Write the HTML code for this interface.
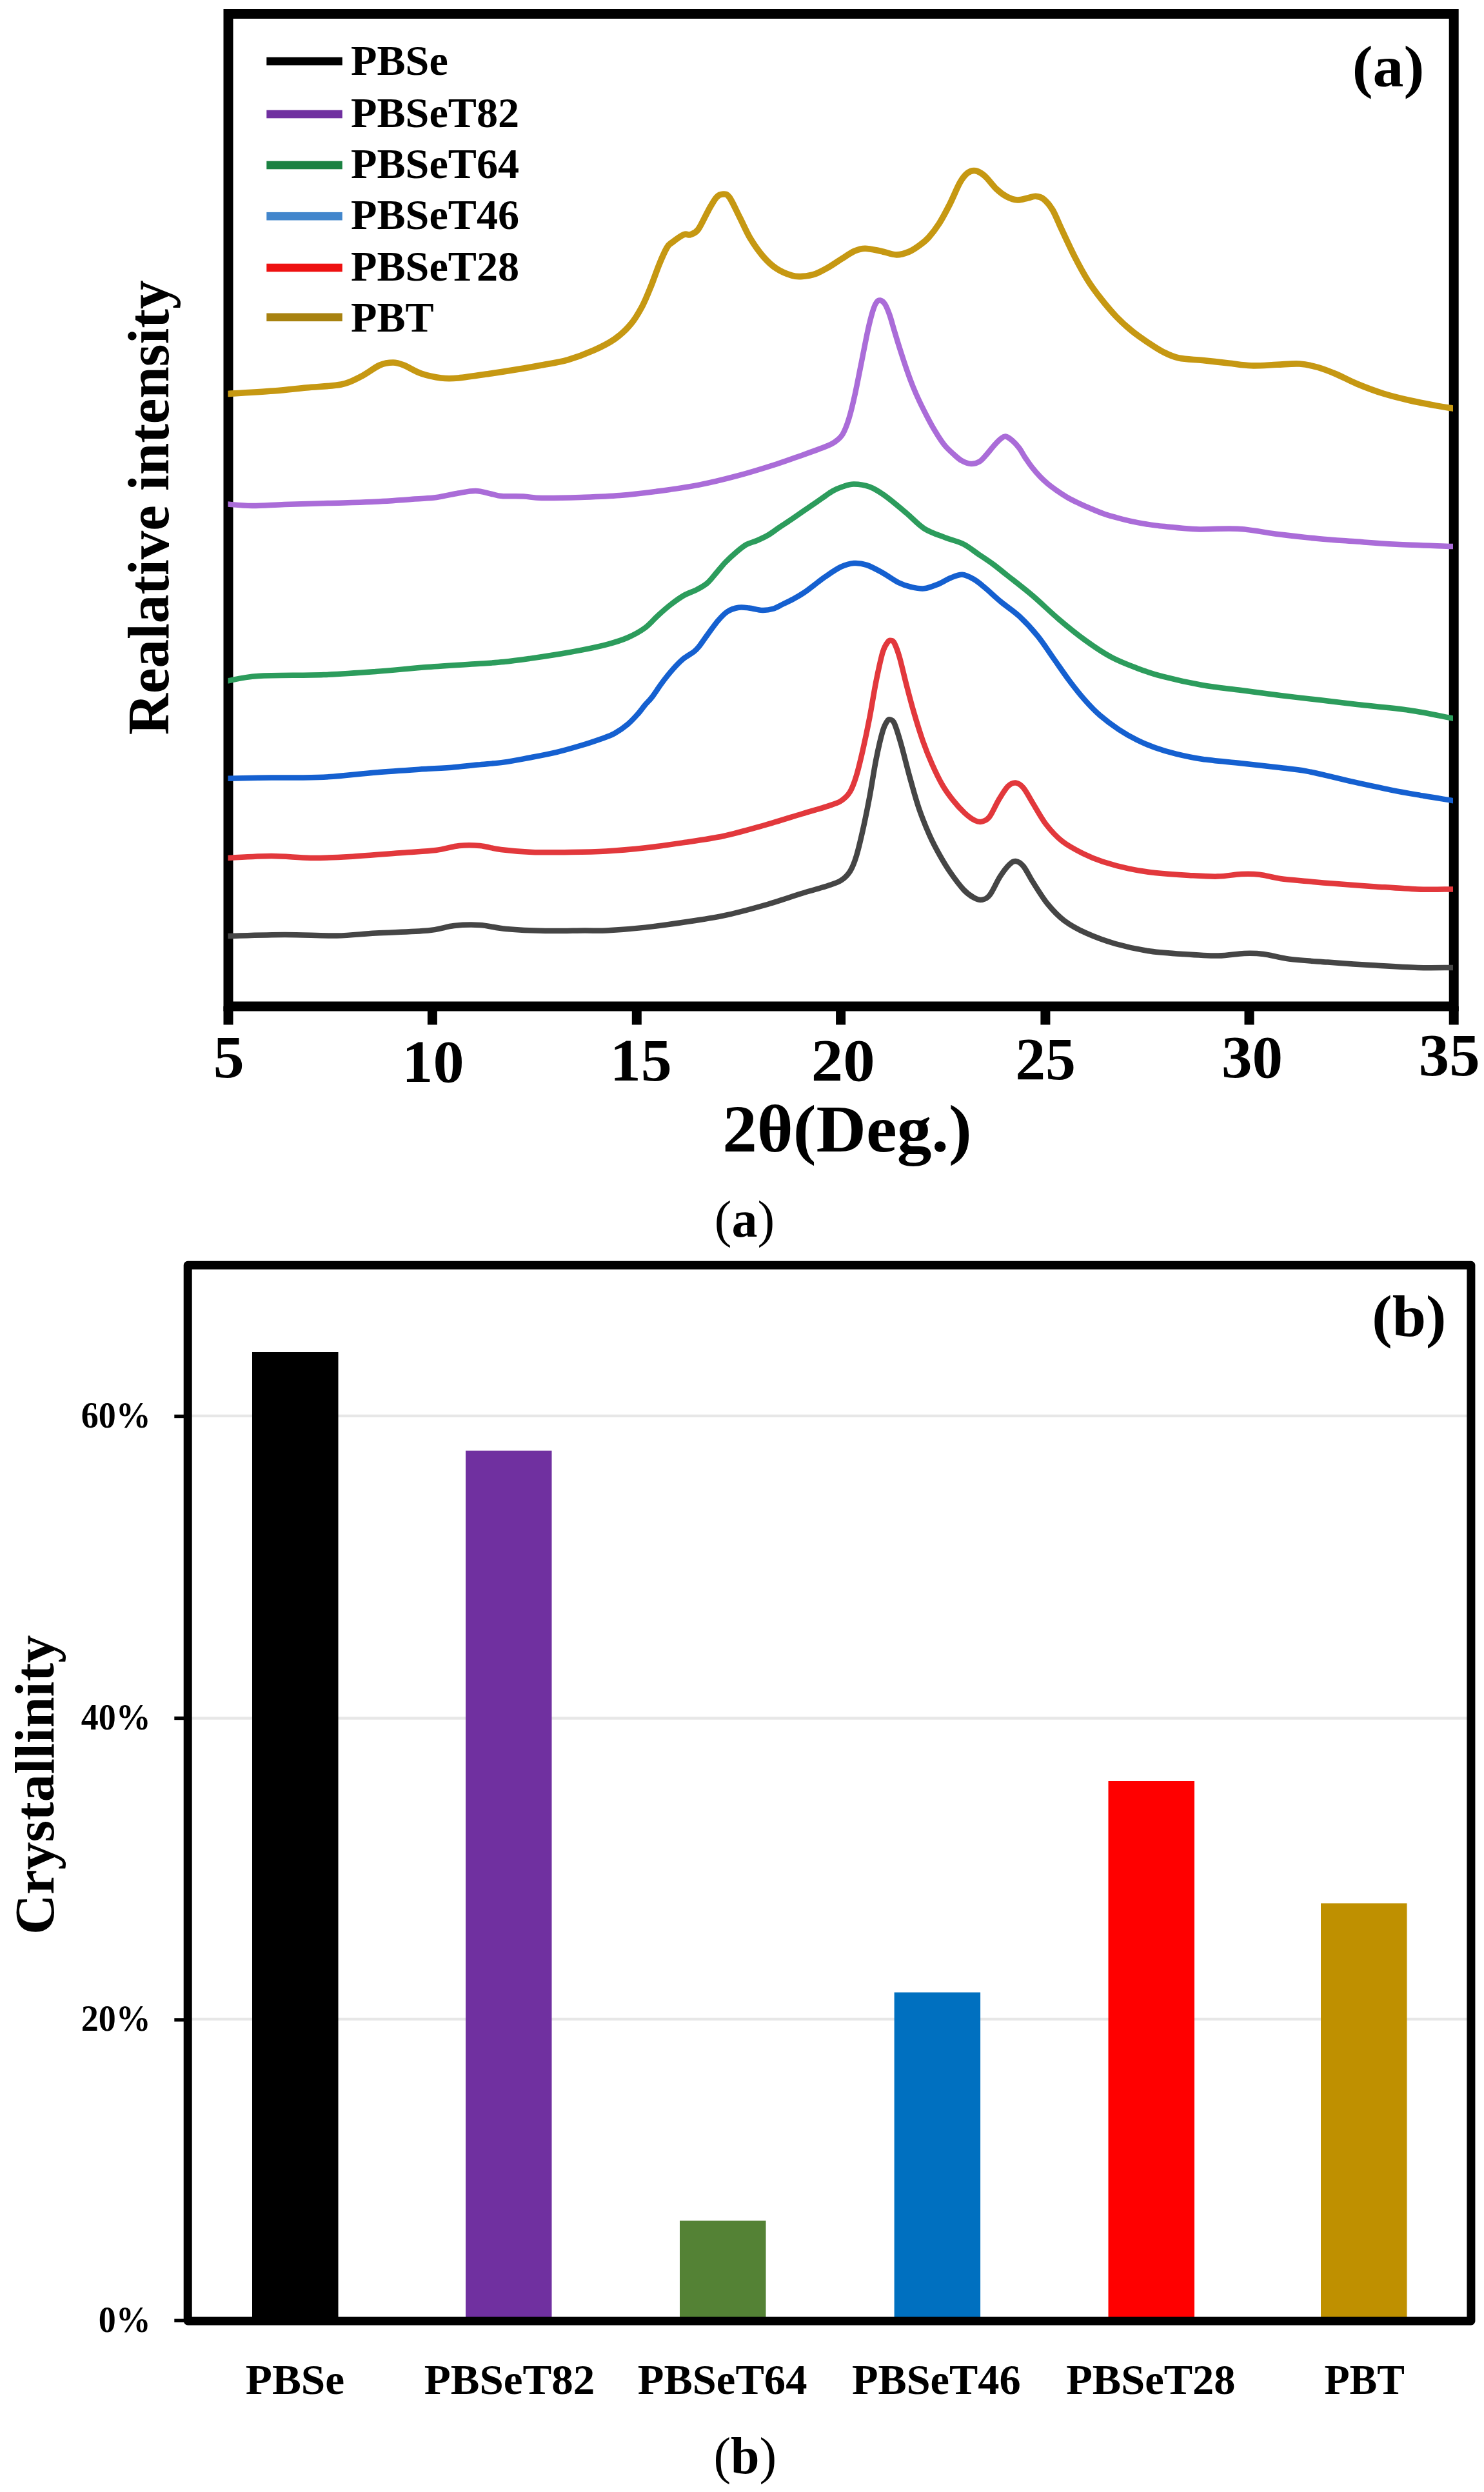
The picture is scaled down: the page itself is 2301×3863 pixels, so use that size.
<!DOCTYPE html>
<html lang="en"><head><meta charset="utf-8"><title>XRD patterns and crystallinity</title>
<style>html,body{margin:0;padding:0;background:#fff}svg{display:block}text{font-family:"Liberation Serif","DejaVu Serif",serif;fill:#000}.b{font-weight:bold}</style></head><body>
<svg width="2301" height="3863" viewBox="0 0 2301 3863">
<rect width="2301" height="3863" fill="#fff"/>
<g id="chart-a">
<path d="M354 1560 V21.5 H2254.2 V1560 Z" fill="none" stroke="#000" stroke-width="15"/>
<rect x="346.5" y="1560" width="15" height="28.5" fill="#000"/>
<rect x="662.9" y="1560" width="15" height="28.5" fill="#000"/>
<rect x="979.8" y="1560" width="15" height="28.5" fill="#000"/>
<rect x="1296.1" y="1560" width="15" height="28.5" fill="#000"/>
<rect x="1613.4" y="1560" width="15" height="28.5" fill="#000"/>
<rect x="1929.5" y="1560" width="15" height="28.5" fill="#000"/>
<rect x="2246.7" y="1560" width="15" height="28.5" fill="#000"/>
<clipPath id="ca"><rect x="353.5" y="28" width="1899.5" height="1526"/></clipPath>
<g clip-path="url(#ca)" fill="none" stroke-linejoin="round" stroke-linecap="butt">
<path d="M352.0 610.5C364.0 609.8 403.5 607.6 424.0 606.0C444.5 604.4 457.5 602.7 475.0 601.0C492.5 599.3 515.0 598.8 529.0 596.0C543.0 593.2 549.0 589.0 559.0 584.0C569.0 579.0 580.6 569.7 589.0 566.0C597.4 562.3 603.3 562.0 609.5 562.0C615.7 562.0 618.8 563.2 626.0 566.0C633.2 568.8 643.3 575.7 653.0 579.0C662.7 582.3 674.4 584.8 684.0 586.0C693.6 587.2 697.8 587.2 710.6 586.0C723.4 584.8 744.1 581.5 761.0 579.0C777.9 576.5 798.8 573.2 812.0 571.0C825.2 568.8 828.6 568.2 840.0 566.0C851.4 563.8 866.9 561.6 880.4 557.8C893.9 553.9 908.8 548.3 920.9 542.9C933.0 537.5 943.8 532.1 953.2 525.5C962.6 518.9 970.4 511.6 977.5 503.2C984.6 494.8 990.3 485.0 995.7 474.9C1001.1 464.8 1005.4 453.4 1009.8 442.6C1014.2 431.8 1018.0 420.0 1022.0 410.2C1026.0 400.4 1030.7 389.7 1034.0 384.0C1037.3 378.3 1037.6 379.3 1042.0 375.9C1046.4 372.5 1055.7 365.7 1060.4 363.7C1065.2 361.7 1066.8 365.0 1070.5 363.7C1074.2 362.4 1077.9 362.1 1082.6 355.7C1087.3 349.3 1094.1 333.6 1098.8 325.3C1103.5 317.0 1107.2 309.9 1110.9 305.9C1114.6 301.8 1117.7 301.0 1121.0 301.0C1124.3 301.0 1126.6 299.8 1131.0 305.9C1135.4 312.0 1141.9 326.9 1147.3 337.5C1152.7 348.1 1157.4 359.7 1163.5 369.8C1169.6 379.9 1177.0 390.2 1183.7 398.0C1190.4 405.8 1196.5 411.4 1203.9 416.3C1211.3 421.2 1221.3 425.2 1228.0 427.2C1234.7 429.2 1238.2 428.9 1244.3 428.4C1250.4 427.9 1257.8 426.8 1264.5 424.4C1271.2 422.0 1278.0 418.1 1284.7 414.3C1291.5 410.5 1298.3 405.5 1305.0 401.3C1311.7 397.1 1318.9 391.9 1325.0 389.2C1331.1 386.5 1334.6 385.2 1341.4 385.2C1348.2 385.2 1357.5 387.6 1365.6 389.2C1373.7 390.8 1382.6 394.8 1390.0 394.9C1397.4 395.0 1404.0 392.5 1410.0 390.0C1416.0 387.5 1421.3 383.6 1426.3 379.9C1431.3 376.2 1435.0 373.6 1440.0 368.0C1445.0 362.4 1450.8 354.9 1456.2 346.5C1461.6 338.1 1466.9 327.9 1472.3 317.3C1477.7 306.7 1483.8 291.1 1488.5 282.9C1493.2 274.7 1496.5 270.9 1500.6 267.9C1504.6 264.9 1508.4 263.9 1512.8 264.7C1517.2 265.5 1521.6 268.1 1527.0 272.8C1532.4 277.5 1539.3 287.6 1545.0 293.0C1550.7 298.4 1555.9 302.2 1561.3 305.0C1566.7 307.8 1572.1 309.7 1577.5 310.0C1582.9 310.3 1588.9 307.9 1593.6 307.0C1598.3 306.1 1601.7 304.1 1605.8 304.3C1609.9 304.5 1613.6 304.9 1618.0 308.4C1622.4 311.9 1627.3 317.4 1632.0 325.3C1636.7 333.2 1640.5 343.6 1646.2 355.7C1651.9 367.8 1659.7 385.0 1666.4 398.1C1673.1 411.2 1679.8 423.7 1686.6 434.5C1693.3 445.3 1699.5 453.4 1706.9 462.8C1714.3 472.2 1722.9 482.6 1731.0 491.0C1739.1 499.4 1747.3 506.7 1755.4 513.3C1763.5 519.9 1771.5 525.3 1779.6 530.7C1787.7 536.1 1795.8 541.7 1803.9 545.7C1812.0 549.8 1817.9 552.9 1828.0 555.0C1838.1 557.1 1851.7 557.2 1864.5 558.5C1877.3 559.8 1892.4 561.6 1905.0 563.0C1917.6 564.4 1927.5 566.4 1940.0 566.8C1952.5 567.2 1967.5 565.8 1980.0 565.3C1992.5 564.8 2004.4 563.3 2015.0 564.0C2025.6 564.7 2034.2 566.8 2043.7 569.5C2053.2 572.2 2061.9 575.8 2072.0 580.0C2082.1 584.2 2091.9 590.0 2104.0 595.0C2116.1 600.0 2131.2 605.8 2144.7 610.0C2158.2 614.2 2171.5 617.4 2185.0 620.5C2198.5 623.6 2214.8 626.6 2225.6 628.6C2236.4 630.6 2244.8 631.8 2250.0 632.6C2255.2 633.5 2255.8 633.5 2257.0 633.7" stroke="#C69812" stroke-width="9.6"/>
<path d="M352.0 781.5C358.4 781.9 375.7 783.9 390.5 784.0C405.3 784.1 421.3 782.7 441.0 782.0C460.7 781.3 486.0 780.7 508.5 780.0C531.0 779.3 553.6 779.1 576.0 778.0C598.4 776.9 626.2 774.8 643.0 773.6C659.8 772.4 665.7 772.5 677.0 771.0C688.3 769.5 700.5 766.2 710.6 764.5C720.7 762.8 729.2 760.8 737.6 761.0C746.0 761.2 754.3 764.2 761.0 765.5C767.7 766.8 769.5 768.3 778.0 769.0C786.5 769.7 801.4 769.0 811.7 769.5C822.0 770.0 825.2 771.8 840.0 772.0C854.8 772.2 880.4 771.6 900.6 770.9C920.8 770.2 941.1 769.6 961.3 768.0C981.5 766.4 1001.8 763.9 1022.0 761.2C1042.2 758.5 1062.4 755.8 1082.6 751.9C1102.8 748.0 1122.8 743.1 1143.0 737.7C1163.2 732.3 1187.0 724.9 1203.9 719.5C1220.8 714.1 1231.6 709.9 1244.3 705.4C1257.0 700.9 1271.6 695.7 1280.0 692.3C1288.4 688.9 1290.1 688.2 1294.6 685.0C1299.0 681.8 1303.1 679.0 1306.7 672.9C1310.3 666.8 1313.2 659.1 1316.4 648.6C1319.6 638.1 1322.8 624.3 1326.0 609.8C1329.2 595.2 1332.5 577.5 1335.8 561.3C1339.0 545.1 1342.7 525.7 1345.5 512.8C1348.3 499.9 1350.6 491.0 1352.8 483.7C1355.0 476.4 1356.8 472.0 1358.8 469.0C1360.8 466.0 1362.7 465.1 1364.9 465.5C1367.1 465.9 1369.8 467.7 1372.2 471.5C1374.6 475.3 1377.1 481.6 1379.5 488.5C1381.9 495.4 1383.9 503.5 1386.7 512.8C1389.5 522.1 1393.2 534.2 1396.4 544.3C1399.6 554.4 1402.8 564.1 1406.0 573.4C1409.2 582.7 1412.6 591.9 1415.9 600.0C1419.2 608.1 1422.0 614.3 1425.6 622.0C1429.2 629.7 1433.7 638.5 1437.7 646.2C1441.7 653.9 1445.3 660.7 1449.8 668.0C1454.2 675.3 1459.5 683.8 1464.4 689.9C1469.3 696.0 1474.6 700.4 1479.0 704.4C1483.4 708.4 1486.6 711.6 1491.0 714.0C1495.4 716.4 1500.9 718.8 1505.6 719.0C1510.3 719.2 1515.0 717.8 1519.0 715.4C1523.0 713.0 1526.1 708.6 1529.9 704.4C1533.7 700.1 1538.4 693.9 1542.0 689.9C1545.6 685.9 1548.9 682.4 1551.7 680.2C1554.5 678.0 1556.0 676.0 1559.0 676.5C1562.0 677.0 1566.5 680.2 1570.0 683.2C1573.5 686.2 1576.8 689.9 1580.2 694.4C1583.6 698.9 1586.9 705.5 1590.3 710.5C1593.7 715.5 1596.7 720.0 1600.4 724.7C1604.1 729.4 1608.5 734.6 1612.6 738.8C1616.6 743.0 1620.0 746.1 1624.7 750.0C1629.4 753.9 1635.5 758.3 1640.9 762.0C1646.3 765.7 1651.6 769.2 1657.0 772.2C1662.4 775.2 1667.5 777.6 1673.2 780.3C1678.9 783.0 1685.0 785.7 1691.4 788.4C1697.8 791.1 1704.9 794.1 1711.6 796.5C1718.3 798.9 1725.1 800.6 1731.8 802.5C1738.5 804.4 1745.2 806.1 1752.0 807.6C1758.8 809.1 1765.5 810.4 1772.3 811.6C1779.0 812.8 1785.8 813.8 1792.5 814.6C1799.2 815.5 1806.0 816.0 1812.7 816.7C1819.4 817.4 1825.0 818.1 1832.9 818.7C1840.8 819.3 1845.1 820.2 1860.0 820.4C1874.9 820.6 1901.9 818.7 1922.4 820.0C1942.9 821.3 1962.8 825.8 1983.0 828.3C2003.2 830.8 2023.5 833.1 2043.7 835.0C2063.9 836.9 2083.8 838.1 2104.0 839.6C2124.2 841.1 2140.7 842.5 2165.0 843.7C2189.3 844.9 2234.7 846.3 2250.0 846.9C2265.3 847.5 2255.8 847.2 2257.0 847.2" stroke="#AA6CD8" stroke-width="8.5"/>
<path d="M352.0 1055.6C360.1 1054.3 375.7 1049.6 400.6 1048.0C425.6 1046.4 471.4 1047.2 501.7 1046.0C532.0 1044.8 555.6 1043.0 582.6 1041.0C609.6 1039.0 637.2 1036.0 663.5 1034.0C689.8 1032.0 720.8 1030.3 740.4 1029.0C760.0 1027.7 767.4 1027.3 780.9 1026.0C794.4 1024.7 807.8 1022.8 821.3 1020.9C834.8 1019.0 848.2 1017.0 861.7 1014.8C875.2 1012.6 888.5 1010.4 902.0 1007.7C915.5 1005.0 930.8 1001.8 942.6 998.6C954.4 995.4 963.4 992.7 973.0 988.5C982.6 984.3 992.2 979.1 1000.0 973.4C1007.8 967.7 1013.3 960.4 1020.0 954.3C1026.7 948.2 1033.5 942.2 1040.2 937.0C1046.9 931.8 1053.7 926.9 1060.4 923.0C1067.1 919.1 1074.5 917.1 1080.6 913.9C1086.7 910.7 1091.7 908.1 1096.8 903.7C1101.9 899.3 1106.3 893.0 1111.0 887.6C1115.7 882.2 1120.0 876.6 1125.0 871.4C1130.0 866.2 1135.9 860.8 1141.3 856.2C1146.7 851.6 1152.1 847.0 1157.5 844.0C1162.9 841.0 1167.9 840.5 1173.6 838.0C1179.3 835.5 1186.1 832.4 1191.8 829.0C1197.5 825.6 1202.3 821.7 1208.0 817.8C1213.7 813.9 1220.5 809.6 1226.2 805.7C1231.9 801.8 1237.0 798.3 1242.4 794.6C1247.8 790.9 1253.1 787.2 1258.5 783.5C1263.9 779.8 1269.3 776.0 1274.7 772.3C1280.1 768.6 1285.5 764.2 1290.9 761.2C1296.3 758.2 1301.5 756.0 1307.0 754.2C1312.5 752.4 1317.2 750.4 1324.0 750.5C1330.8 750.6 1339.9 751.6 1348.0 754.6C1356.1 757.6 1363.1 762.0 1372.6 768.7C1382.1 775.4 1394.9 786.6 1405.0 795.0C1415.1 803.4 1422.9 812.9 1433.0 819.3C1443.1 825.7 1455.4 829.4 1465.6 833.4C1475.8 837.4 1485.3 839.1 1494.0 843.5C1502.7 847.9 1510.3 854.5 1518.0 859.7C1525.7 864.9 1532.9 869.5 1540.0 874.7C1547.1 879.9 1550.4 882.9 1560.6 891.0C1570.8 899.1 1587.5 911.8 1601.0 923.3C1614.5 934.8 1628.0 948.2 1641.5 959.7C1655.0 971.2 1668.5 982.2 1682.0 992.0C1695.5 1001.8 1708.9 1011.0 1722.4 1018.3C1735.9 1025.6 1749.4 1030.6 1762.8 1035.7C1776.2 1040.8 1786.2 1044.3 1803.0 1048.7C1819.8 1053.1 1843.7 1058.5 1863.9 1062.0C1884.2 1065.5 1904.3 1067.3 1924.5 1070.0C1944.7 1072.7 1964.8 1075.5 1985.0 1078.0C2005.2 1080.5 2026.0 1082.7 2045.8 1085.0C2065.6 1087.3 2080.8 1089.3 2104.0 1092.0C2127.2 1094.7 2160.7 1097.5 2185.0 1101.0C2209.3 1104.5 2238.0 1110.8 2250.0 1113.0C2262.0 1115.2 2255.8 1114.1 2257.0 1114.3" stroke="#2C9C5C" stroke-width="8.5"/>
<path d="M352.0 1206.7C363.5 1206.5 395.9 1205.8 420.9 1205.5C445.8 1205.2 474.8 1206.0 501.7 1204.7C528.6 1203.4 555.6 1199.6 582.6 1197.4C609.6 1195.2 643.9 1193.1 663.5 1191.8C683.1 1190.5 687.2 1190.7 700.0 1189.7C712.8 1188.7 726.9 1186.9 740.4 1185.6C753.9 1184.2 767.4 1183.4 780.9 1181.6C794.4 1179.8 807.8 1177.0 821.3 1174.5C834.8 1172.0 848.2 1169.6 861.7 1166.4C875.2 1163.2 890.2 1158.8 902.0 1155.3C913.8 1151.8 924.0 1148.2 932.5 1145.2C941.0 1142.2 946.0 1140.7 952.7 1137.0C959.5 1133.3 967.0 1128.0 973.0 1123.0C979.0 1118.0 984.5 1111.8 989.0 1106.8C993.5 1101.8 996.3 1097.4 1000.0 1093.0C1003.7 1088.6 1006.5 1086.5 1011.0 1080.6C1015.5 1074.7 1021.6 1064.9 1027.0 1057.7C1032.4 1050.5 1037.9 1043.6 1043.3 1037.5C1048.7 1031.4 1054.1 1025.8 1059.5 1021.3C1064.9 1016.8 1071.6 1013.6 1075.6 1010.5C1079.6 1007.4 1080.1 1006.9 1083.7 1002.4C1087.3 997.9 1092.2 990.3 1097.2 983.6C1102.2 976.9 1108.3 967.9 1113.4 962.0C1118.5 956.1 1122.7 951.4 1128.0 948.0C1133.3 944.6 1139.7 942.7 1145.3 941.8C1150.9 940.9 1155.4 941.8 1161.5 942.5C1167.6 943.2 1175.8 945.8 1182.0 946.0C1188.2 946.2 1193.2 945.4 1198.5 943.8C1203.8 942.2 1208.7 939.0 1214.0 936.5C1219.3 934.0 1224.8 931.4 1230.2 928.5C1235.6 925.6 1241.0 922.5 1246.4 918.9C1251.8 915.3 1257.1 910.9 1262.6 906.8C1268.1 902.6 1272.7 898.7 1279.6 894.0C1286.5 889.3 1296.6 882.2 1304.0 878.7C1311.4 875.2 1317.3 873.5 1324.0 873.0C1330.7 872.5 1336.6 873.4 1344.0 875.9C1351.4 878.4 1360.4 883.5 1368.6 888.0C1376.8 892.5 1385.6 899.3 1393.0 903.0C1400.4 906.7 1406.3 908.5 1413.0 910.0C1419.7 911.5 1426.2 913.0 1433.0 912.3C1439.8 911.6 1446.7 908.7 1453.5 906.0C1460.3 903.3 1467.3 898.5 1473.7 896.0C1480.1 893.5 1486.0 890.5 1492.0 890.8C1498.0 891.1 1504.3 894.8 1510.0 898.0C1515.7 901.2 1518.9 904.1 1526.0 910.0C1533.1 915.9 1543.4 925.8 1552.6 933.4C1561.8 941.0 1571.5 946.9 1580.9 955.7C1590.3 964.5 1600.2 975.2 1609.0 986.0C1617.8 996.8 1625.3 1008.9 1633.4 1020.4C1641.5 1031.8 1649.6 1043.9 1657.7 1054.7C1665.8 1065.5 1674.0 1075.9 1682.0 1085.0C1690.0 1094.1 1697.2 1101.7 1706.0 1109.3C1714.8 1116.9 1725.0 1124.4 1734.5 1130.7C1744.0 1137.0 1753.4 1142.3 1762.8 1147.0C1772.2 1151.7 1780.9 1155.4 1791.0 1159.0C1801.1 1162.6 1811.2 1165.7 1823.4 1168.7C1835.6 1171.7 1847.1 1174.4 1863.9 1176.8C1880.8 1179.2 1904.3 1181.1 1924.5 1183.3C1944.7 1185.5 1968.2 1188.0 1985.0 1190.0C2001.8 1192.0 2012.1 1193.0 2025.6 1195.4C2039.1 1197.8 2053.6 1201.5 2066.0 1204.3C2078.4 1207.1 2084.7 1209.0 2100.0 1212.4C2115.3 1215.8 2140.0 1221.2 2158.0 1224.8C2176.0 1228.4 2192.6 1231.1 2208.0 1233.8C2223.4 1236.5 2242.4 1239.4 2250.6 1240.8C2258.8 1242.2 2255.9 1241.7 2257.0 1241.9" stroke="#1560D0" stroke-width="8.5"/>
<path d="M352.0 1330.0C363.5 1329.5 399.3 1327.0 420.9 1327.0C442.5 1327.0 461.3 1329.8 481.5 1330.0C501.7 1330.2 518.4 1329.3 542.0 1328.0C565.6 1326.7 600.7 1323.7 623.0 1322.0C645.3 1320.3 660.8 1319.8 675.6 1318.0C690.4 1316.2 700.6 1312.2 712.0 1311.0C723.4 1309.8 733.2 1310.0 744.0 1311.0C754.8 1312.0 763.2 1315.3 776.7 1317.0C790.2 1318.7 806.8 1320.3 825.0 1321.0C843.2 1321.7 866.6 1321.2 885.8 1321.0C905.0 1320.8 920.9 1320.6 940.0 1319.5C959.1 1318.4 980.4 1316.5 1000.6 1314.3C1020.8 1312.0 1040.8 1309.0 1061.0 1306.0C1081.2 1303.0 1101.7 1300.3 1122.0 1296.0C1142.3 1291.7 1162.4 1285.7 1182.6 1280.0C1202.8 1274.3 1226.2 1266.8 1243.0 1261.7C1259.8 1256.6 1273.5 1253.0 1283.7 1249.6C1293.9 1246.2 1298.3 1245.2 1304.0 1241.5C1309.7 1237.8 1314.0 1234.0 1318.0 1227.4C1322.0 1220.8 1324.7 1212.9 1328.0 1202.0C1331.3 1191.1 1334.6 1176.9 1338.0 1162.0C1341.4 1147.1 1345.0 1130.1 1348.4 1112.4C1351.8 1094.7 1355.1 1072.7 1358.5 1055.8C1361.9 1038.9 1365.6 1021.4 1368.6 1011.3C1371.6 1001.2 1374.5 998.0 1376.7 995.0C1378.9 992.0 1379.8 992.7 1381.5 993.0C1383.2 993.3 1384.6 992.6 1386.8 997.0C1389.0 1001.4 1391.9 1008.9 1394.9 1019.4C1397.9 1029.9 1401.3 1045.6 1405.0 1059.8C1408.7 1074.0 1412.7 1089.5 1417.0 1104.3C1421.3 1119.1 1426.3 1135.3 1431.0 1148.8C1435.7 1162.2 1440.3 1173.5 1445.4 1185.0C1450.5 1196.5 1456.2 1208.2 1461.6 1217.5C1467.0 1226.8 1472.0 1233.3 1477.7 1240.5C1483.4 1247.7 1490.3 1255.2 1496.0 1260.5C1501.7 1265.8 1507.5 1269.8 1512.0 1272.0C1516.5 1274.2 1519.3 1274.5 1523.0 1273.5C1526.7 1272.5 1530.2 1271.6 1534.4 1266.0C1538.7 1260.4 1543.8 1247.8 1548.5 1240.0C1553.2 1232.2 1558.3 1223.4 1562.7 1219.0C1567.1 1214.6 1570.8 1213.1 1574.8 1213.5C1578.8 1213.9 1582.5 1216.1 1587.0 1221.5C1591.5 1226.9 1596.2 1236.6 1602.0 1246.0C1607.8 1255.4 1614.5 1268.3 1622.0 1278.0C1629.5 1287.7 1637.5 1296.5 1647.0 1304.0C1656.5 1311.5 1668.5 1317.7 1679.0 1323.0C1689.5 1328.3 1698.0 1331.8 1710.0 1335.7C1722.0 1339.6 1737.2 1343.7 1750.7 1346.6C1764.2 1349.5 1775.5 1351.3 1791.0 1353.0C1806.5 1354.7 1827.5 1356.1 1843.7 1357.0C1859.9 1357.9 1874.5 1358.9 1888.0 1358.6C1901.5 1358.3 1913.7 1355.5 1924.5 1355.0C1935.3 1354.5 1942.9 1354.5 1953.0 1355.7C1963.1 1356.9 1972.9 1360.3 1985.0 1362.0C1997.1 1363.7 2012.1 1364.8 2025.6 1366.0C2039.1 1367.2 2048.0 1368.1 2066.0 1369.5C2084.0 1370.9 2111.3 1372.9 2133.4 1374.4C2155.5 1375.9 2178.8 1377.7 2198.3 1378.4C2217.8 1379.1 2240.8 1378.4 2250.6 1378.4C2260.4 1378.4 2255.9 1378.4 2257.0 1378.4" stroke="#E2383C" stroke-width="8.5"/>
<path d="M352.0 1451.0C366.8 1450.7 412.7 1449.1 441.0 1449.0C469.3 1448.9 498.4 1450.9 522.0 1450.5C545.6 1450.1 559.0 1447.8 582.6 1446.5C606.2 1445.2 643.3 1444.4 663.5 1442.5C683.7 1440.6 690.6 1436.4 704.0 1435.0C717.4 1433.6 730.5 1433.2 744.0 1434.0C757.5 1434.8 767.8 1438.5 784.7 1440.0C801.6 1441.5 825.2 1442.6 845.4 1443.0C865.6 1443.4 890.2 1442.6 906.0 1442.5C921.8 1442.4 924.2 1443.3 940.0 1442.5C955.8 1441.7 980.4 1439.8 1000.6 1437.6C1020.8 1435.4 1040.8 1432.5 1061.0 1429.5C1081.2 1426.5 1101.7 1423.7 1122.0 1419.4C1142.3 1415.2 1162.4 1409.7 1182.6 1404.0C1202.8 1398.3 1226.2 1390.2 1243.0 1385.0C1259.8 1379.8 1273.5 1376.4 1283.7 1373.0C1293.9 1369.6 1298.3 1368.5 1304.0 1364.8C1309.7 1361.1 1314.0 1357.1 1318.0 1350.7C1322.0 1344.3 1324.7 1337.2 1328.0 1326.4C1331.3 1315.6 1334.6 1301.2 1338.0 1286.0C1341.4 1270.8 1345.0 1253.2 1348.4 1235.0C1351.8 1216.8 1355.1 1193.7 1358.5 1176.8C1361.9 1159.9 1365.7 1143.4 1368.6 1133.5C1371.5 1123.6 1373.9 1120.5 1375.9 1117.5C1377.9 1114.5 1378.7 1114.9 1380.5 1115.6C1382.3 1116.3 1384.1 1115.3 1386.8 1121.5C1389.5 1127.7 1392.9 1138.6 1396.9 1152.7C1400.9 1166.8 1406.3 1189.2 1411.0 1206.0C1415.7 1222.8 1419.9 1238.8 1425.0 1253.6C1430.1 1268.4 1436.0 1282.9 1441.4 1295.0C1446.8 1307.1 1452.1 1316.8 1457.5 1326.4C1462.9 1336.0 1467.6 1343.9 1473.7 1352.7C1479.8 1361.5 1488.0 1372.5 1494.0 1379.0C1500.0 1385.5 1505.2 1388.9 1510.0 1391.5C1514.8 1394.1 1518.8 1395.5 1523.0 1394.7C1527.2 1394.0 1530.4 1393.0 1535.0 1387.0C1539.6 1381.0 1545.5 1366.8 1550.5 1359.0C1555.5 1351.2 1560.7 1344.5 1564.7 1340.5C1568.8 1336.5 1571.1 1334.6 1574.8 1335.0C1578.5 1335.4 1582.5 1337.5 1587.0 1343.0C1591.5 1348.5 1595.7 1358.2 1602.0 1368.0C1608.3 1377.8 1616.8 1392.0 1624.8 1401.8C1632.8 1411.6 1639.8 1419.3 1649.8 1426.8C1659.8 1434.3 1671.4 1440.7 1684.7 1446.7C1698.0 1452.7 1713.7 1458.5 1729.5 1463.0C1745.3 1467.5 1762.0 1471.3 1779.4 1474.0C1796.8 1476.7 1815.7 1477.7 1834.0 1479.0C1852.3 1480.3 1873.2 1481.8 1889.0 1481.6C1904.8 1481.4 1917.3 1478.4 1929.0 1478.0C1940.7 1477.6 1947.4 1477.6 1959.0 1479.0C1970.6 1480.4 1982.2 1484.5 1998.8 1486.6C2015.4 1488.7 2036.3 1489.9 2058.7 1491.6C2081.1 1493.3 2110.1 1495.2 2133.4 1496.6C2156.7 1498.0 2178.8 1499.4 2198.3 1500.0C2217.8 1500.6 2240.8 1500.0 2250.6 1500.0C2260.4 1500.0 2255.9 1500.0 2257.0 1500.0" stroke="#454545" stroke-width="8.5"/>
</g>
<text class="b" transform="translate(330.67 1670.00) scale(1.0198 1)" font-size="94">5</text>
<text class="b" transform="translate(623.29 1676.50) scale(1.0247 1)" font-size="94">10</text>
<text class="b" transform="translate(945.81 1674.80) scale(1.0222 1)" font-size="94">15</text>
<text class="b" transform="translate(1257.80 1674.80) scale(1.0523 1)" font-size="94">20</text>
<text class="b" transform="translate(1574.21 1672.50) scale(0.9979 1)" font-size="94">25</text>
<text class="b" transform="translate(1893.94 1670.00) scale(1.0109 1)" font-size="94">30</text>
<text class="b" transform="translate(2199.85 1667.00) scale(1.0075 1)" font-size="94">35</text>
<text class="b" transform="translate(1120.14 1785.00) scale(1.0319 1)" font-size="104">2θ(Deg.)</text>
<text class="b" transform="translate(261.00 1139.26) rotate(-90) scale(0.9730 1)" font-size="91.5">Realative intensity</text>
<text class="b" transform="translate(2096.69 133.50) scale(1.0652 1)" font-size="90">(a)</text>
<rect x="413.3" y="88.7" width="117.5" height="12.6" fill="#000000"/>
<text class="b" x="544" y="115.8" font-size="66.2">PBSe</text>
<rect x="413.3" y="170.7" width="117.5" height="12.6" fill="#7030A0"/>
<text class="b" x="544" y="197.2" font-size="66.2">PBSeT82</text>
<rect x="413.3" y="249.7" width="117.5" height="12.6" fill="#1B8242"/>
<text class="b" x="544" y="276.4" font-size="66.2">PBSeT64</text>
<rect x="413.3" y="328.9" width="117.5" height="12.6" fill="#4286CC"/>
<text class="b" x="544" y="355.2" font-size="66.2">PBSeT46</text>
<rect x="413.3" y="408.7" width="117.5" height="12.6" fill="#EE1111"/>
<text class="b" x="544" y="435.2" font-size="66.2">PBSeT28</text>
<rect x="413.3" y="485.5" width="117.5" height="12.6" fill="#A88210"/>
<text class="b" x="544" y="513.8" font-size="66.2">PBT</text>
</g>
<text x="1154.5" y="1917" font-size="80" text-anchor="middle">(<tspan class="b">a</tspan>)</text>
<g id="chart-b">
<rect x="297" y="2192.7" width="1978" height="4.4" fill="#e7e7e7"/>
<rect x="297" y="2661.3" width="1978" height="4.4" fill="#e7e7e7"/>
<rect x="297" y="3127.8" width="1978" height="4.4" fill="#e7e7e7"/>
<rect x="391.0" y="2096.0" width="133.5" height="1497.0" fill="#000000"/>
<rect x="722.0" y="2248.7" width="133.5" height="1344.3" fill="#7030A0"/>
<rect x="1054.0" y="3442.5" width="133.5" height="150.5" fill="#548235"/>
<rect x="1386.6" y="3088.5" width="133.5" height="504.5" fill="#0070C0"/>
<rect x="1718.5" y="2761.0" width="133.5" height="832.0" fill="#FF0000"/>
<rect x="2048.0" y="2950.4" width="133.5" height="642.6" fill="#BF9000"/>
<rect x="291.2" y="1961.3" width="1989.7" height="1636.7" fill="none" stroke="#000" stroke-width="13" stroke-linejoin="round"/>
<rect x="270.3" y="2192.8" width="16" height="5.4" fill="#000"/>
<text class="b" transform="translate(125.67 2212.80) scale(0.9470 1)" font-size="57">60%</text>
<rect x="270.3" y="2660.8" width="16" height="5.4" fill="#000"/>
<text class="b" transform="translate(125.67 2680.80) scale(0.9470 1)" font-size="57">40%</text>
<rect x="270.3" y="3128.3" width="16" height="5.4" fill="#000"/>
<text class="b" transform="translate(125.67 3148.30) scale(0.9470 1)" font-size="57">20%</text>
<rect x="270.3" y="3594.6" width="16" height="5.4" fill="#000"/>
<text class="b" transform="translate(152.66 3614.60) scale(0.9470 1)" font-size="57">0%</text>
<text class="b" transform="translate(380.82 3710.60) scale(1.0360 1)" font-size="65">PBSe</text>
<text class="b" transform="translate(657.83 3710.60) scale(1.0312 1)" font-size="65">PBSeT82</text>
<text class="b" transform="translate(988.73 3710.60) scale(1.0246 1)" font-size="65">PBSeT64</text>
<text class="b" transform="translate(1320.94 3710.60) scale(1.0208 1)" font-size="65">PBSeT46</text>
<text class="b" transform="translate(1653.24 3710.60) scale(1.0230 1)" font-size="65">PBSeT28</text>
<text class="b" transform="translate(2053.48 3710.60) scale(0.9854 1)" font-size="65">PBT</text>
<text class="b" transform="translate(83.00 2998.91) rotate(-90) scale(0.9960 1)" font-size="86.5">Crystallinity</text>
<text class="b" transform="translate(2127.37 2070.50) scale(1.0455 1)" font-size="90">(b)</text>
</g>
<text x="1155.3" y="3834" font-size="80" text-anchor="middle">(<tspan class="b">b</tspan>)</text>
</svg></body></html>
